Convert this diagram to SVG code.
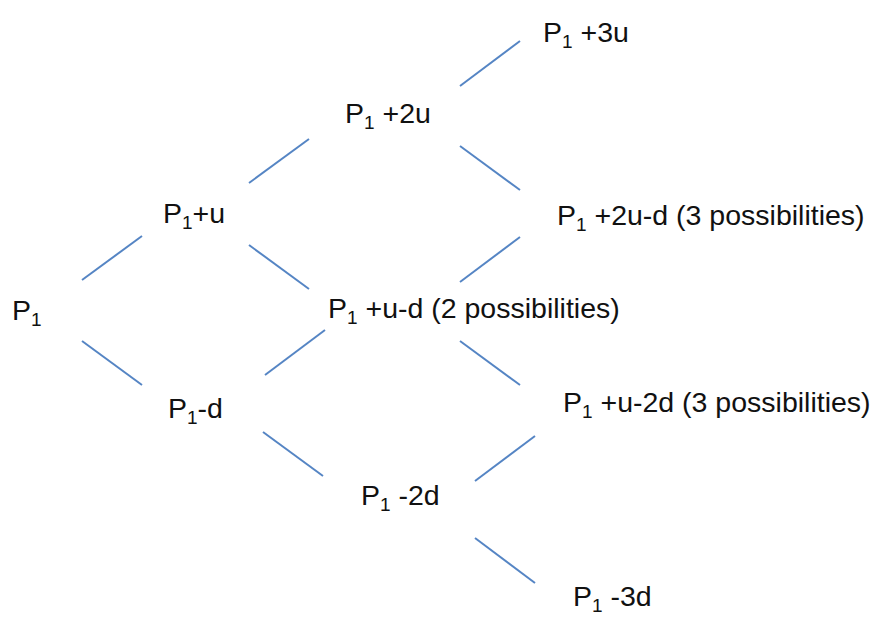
<svg xmlns="http://www.w3.org/2000/svg" width="876" height="617" viewBox="0 0 876 617">
<style>
text{font-family:"Liberation Sans",Arial,sans-serif;font-size:28.5px;fill:#111}
.s{font-size:19px}
line{stroke:#5585c4;stroke-width:2}
</style>
<rect width="876" height="617" fill="#fff"/>
<g id="connectors">
<line x1="82" y1="280" x2="142" y2="236"/>
<line x1="82" y1="341" x2="142" y2="385"/>
<line x1="249" y1="183" x2="309" y2="139"/>
<line x1="249" y1="245" x2="309" y2="289"/>
<line x1="265" y1="375" x2="325" y2="330"/>
<line x1="263" y1="432" x2="323" y2="476"/>
<line x1="460" y1="86" x2="520" y2="41"/>
<line x1="460" y1="146" x2="520" y2="190"/>
<line x1="460" y1="282" x2="520" y2="237"/>
<line x1="460" y1="341" x2="520" y2="385"/>
<line x1="475" y1="481" x2="535" y2="436"/>
<line x1="475" y1="538" x2="535" y2="583"/>
</g>
<g id="n-p1"><text x="12" y="320">P<tspan class="s" dy="6">1</tspan></text></g>
<g id="n-p1u"><text x="163" y="223">P<tspan class="s" dy="6">1</tspan><tspan dy="-6">+u</tspan></text></g>
<g id="n-p1d"><text x="168" y="418">P<tspan class="s" dy="6">1</tspan><tspan dy="-6">-d</tspan></text></g>
<g id="n-p12u"><text x="345" y="123">P<tspan class="s" dy="6">1</tspan><tspan dy="-6"> +2u</tspan></text></g>
<g id="n-p1ud"><text x="328" y="318">P<tspan class="s" dy="6">1</tspan><tspan dy="-6"> +u-d (2 possibilities)</tspan></text></g>
<g id="n-p12d"><text x="361" y="505">P<tspan class="s" dy="6">1</tspan><tspan dy="-6"> -2d</tspan></text></g>
<g id="n-p13u"><text x="543" y="42">P<tspan class="s" dy="6">1</tspan><tspan dy="-6"> +3u</tspan></text></g>
<g id="n-p12ud"><text x="557" y="225">P<tspan class="s" dy="6">1</tspan><tspan dy="-6"> +2u-d (3 possibilities)</tspan></text></g>
<g id="n-p1u2d"><text x="563" y="412">P<tspan class="s" dy="6">1</tspan><tspan dy="-6"> +u-2d (3 possibilities)</tspan></text></g>
<g id="n-p13d"><text x="573" y="606">P<tspan class="s" dy="6">1</tspan><tspan dy="-6"> -3d</tspan></text></g>
</svg>
